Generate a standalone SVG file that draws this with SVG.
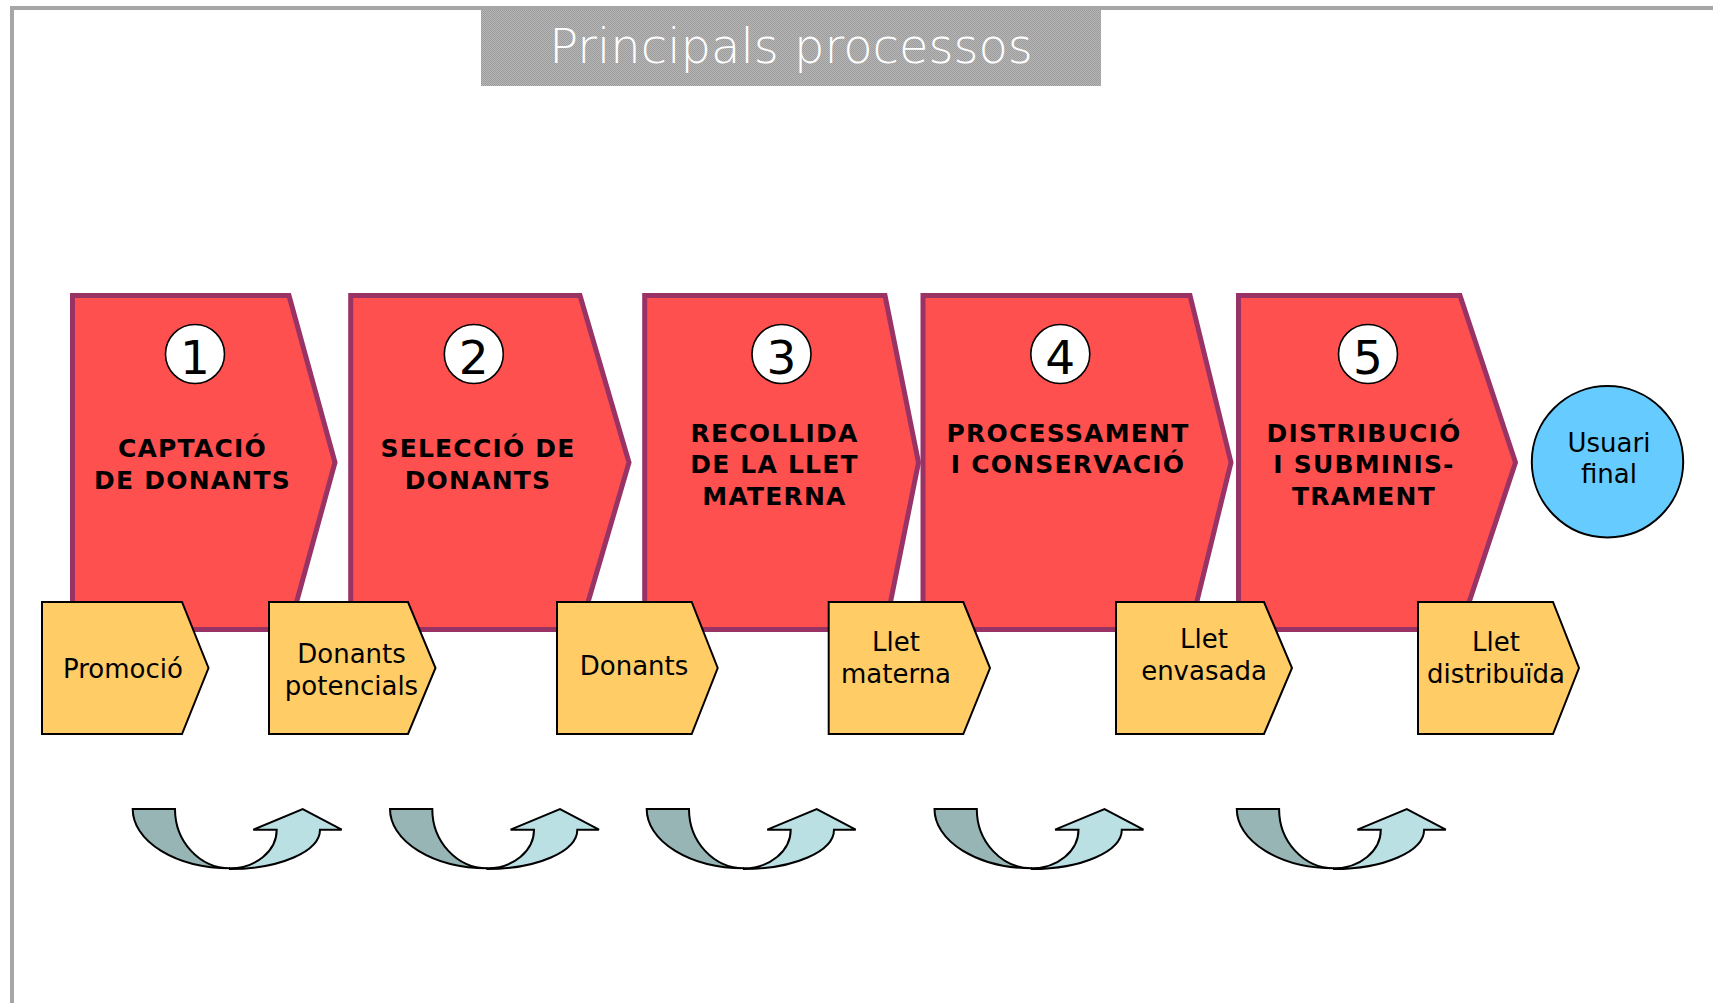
<svg xmlns="http://www.w3.org/2000/svg" width="1713" height="1003" viewBox="0 0 1713 1003">
<defs>
<pattern id="dots" width="2" height="2" patternUnits="userSpaceOnUse">
<rect width="2" height="2" fill="#b6b6b6"/>
<rect width="1" height="1" fill="#9c9c9c"/>
<rect x="1" y="1" width="1" height="1" fill="#9c9c9c"/>
</pattern>
<path id="arrDark" d="M0,809 H42.3 A55,59.3 0 0 0 97.3,868.3 A97.3,59.3 0 0 1 0,809 Z"/>
<path id="arrLight" d="M97.3,868.3 A46.7,38.6 0 0 0 144,829.7 H120.6 L170,809 L209,829.7 H187.3 A90,39.3 0 0 1 97.3,869 Z"/>
</defs>
<style>
.frame{stroke:#a6a6a6;stroke-width:4;fill:none}
.proc{fill:#ff5050;stroke:#993366;stroke-width:5;stroke-linejoin:miter}
.ptxt{font-family:"DejaVu Sans",Verdana,sans-serif;font-weight:bold;font-size:25px;letter-spacing:1.2px;fill:#000;text-anchor:middle}
.num{fill:#fff;stroke:#000;stroke-width:1.6}
.ntxt{font-family:"DejaVu Sans",Verdana,sans-serif;font-size:47px;fill:#000;text-anchor:middle}
.box{fill:#ffcc66;stroke:#000;stroke-width:2;stroke-linejoin:miter}
.btxt{font-family:"DejaVu Sans",Verdana,sans-serif;font-size:26px;fill:#000;text-anchor:middle}
.dark{fill:#97b5b5;stroke:#000;stroke-width:2}
.light{fill:#bae0e3;stroke:#000;stroke-width:2}
.user{fill:#66ccff;stroke:#000;stroke-width:2}
</style>
<rect width="1713" height="1003" fill="#fff"/>
<g id="frame">
<line class="frame" x1="10" y1="8" x2="1713" y2="8"/>
<line class="frame" x1="12" y1="6" x2="12" y2="1003"/>
</g>
<g id="title">
<rect x="481" y="10" width="620" height="76" fill="url(#dots)"/>
<text x="791" y="63" font-family="'DejaVu Sans',Verdana,sans-serif" font-weight="200" font-size="48" fill="#fff" text-anchor="middle">Principals processos</text>
</g>
<g id="process1">
<polygon class="proc" points="72.5,295.5 289,295.5 335,462.5 289,629.5 72.5,629.5"/>
<circle class="num" cx="195" cy="354" r="29.5"/>
<text class="ntxt" x="195" y="373.5">1</text>
<text class="ptxt" x="192.5" y="457">CAPTACIÓ</text>
<text class="ptxt" x="192.5" y="489">DE DONANTS</text>
</g>
<g id="process2">
<polygon class="proc" points="350.7,295.5 580,295.5 629,462.5 580,629.5 350.7,629.5"/>
<circle class="num" cx="473.8" cy="354" r="29.5"/>
<text class="ntxt" x="473.8" y="373.5">2</text>
<text class="ptxt" x="478" y="457">SELECCIÓ DE</text>
<text class="ptxt" x="478" y="489">DONANTS</text>
</g>
<g id="process3">
<polygon class="proc" points="644.7,295.5 885,295.5 918.5,462.5 885,629.5 644.7,629.5"/>
<circle class="num" cx="781.5" cy="354" r="29.5"/>
<text class="ntxt" x="781.5" y="373.5">3</text>
<text class="ptxt" x="774.5" y="441.7">RECOLLIDA</text>
<text class="ptxt" x="774.5" y="473.3">DE LA LLET</text>
<text class="ptxt" x="774.5" y="505">MATERNA</text>
</g>
<g id="process4">
<polygon class="proc" points="923,295.5 1190,295.5 1231,462.5 1190,629.5 923,629.5"/>
<circle class="num" cx="1060.3" cy="354" r="29.5"/>
<text class="ntxt" x="1060.3" y="373.5">4</text>
<text class="ptxt" x="1068" y="441.7">PROCESSAMENT</text>
<text class="ptxt" x="1068" y="473.3">I CONSERVACIÓ</text>
</g>
<g id="process5">
<polygon class="proc" points="1238.5,295.5 1460,295.5 1515.5,462.5 1460,629.5 1238.5,629.5"/>
<circle class="num" cx="1368" cy="354" r="29.5"/>
<text class="ntxt" x="1368" y="373.5">5</text>
<text class="ptxt" x="1364" y="441.7">DISTRIBUCIÓ</text>
<text class="ptxt" x="1364" y="473.3">I SUBMINIS-</text>
<text class="ptxt" x="1364" y="505">TRAMENT</text>
</g>
<g id="user">
<circle class="user" cx="1607.5" cy="461.7" r="75.7"/>
<text class="btxt" x="1609" y="451.7">Usuari</text>
<text class="btxt" x="1609" y="483.3">final</text>
</g>
<g id="out1">
<polygon class="box" points="42,602 182,602 208.5,668 182,734 42,734"/>
<text class="btxt" x="123" y="678">Promoció</text>
</g>
<g id="out2">
<polygon class="box" points="269,602 408,602 435.5,668 408,734 269,734"/>
<text class="btxt" x="351.5" y="663">Donants</text>
<text class="btxt" x="351.5" y="695">potencials</text>
</g>
<g id="out3">
<polygon class="box" points="557,602 691.7,602 717.7,668 691.7,734 557,734"/>
<text class="btxt" x="634" y="675">Donants</text>
</g>
<g id="out4">
<polygon class="box" points="828.7,602 963.3,602 990,668 963.3,734 828.7,734"/>
<text class="btxt" x="896" y="651">Llet</text>
<text class="btxt" x="896" y="683">materna</text>
</g>
<g id="out5">
<polygon class="box" points="1116,602 1264,602 1292,668 1264,734 1116,734"/>
<text class="btxt" x="1204" y="648">Llet</text>
<text class="btxt" x="1204" y="680">envasada</text>
</g>
<g id="out6">
<polygon class="box" points="1418,602 1553,602 1579,668 1553,734 1418,734"/>
<text class="btxt" x="1496" y="651">Llet</text>
<text class="btxt" x="1496" y="683">distribuïda</text>
</g>
<g id="connectors">
<g transform="translate(132.7,0)"><use href="#arrDark" class="dark"/><use href="#arrLight" class="light"/></g>
<g transform="translate(390,0)"><use href="#arrDark" class="dark"/><use href="#arrLight" class="light"/></g>
<g transform="translate(646.7,0)"><use href="#arrDark" class="dark"/><use href="#arrLight" class="light"/></g>
<g transform="translate(934.5,0)"><use href="#arrDark" class="dark"/><use href="#arrLight" class="light"/></g>
<g transform="translate(1236.8,0)"><use href="#arrDark" class="dark"/><use href="#arrLight" class="light"/></g>
</g>
</svg>
